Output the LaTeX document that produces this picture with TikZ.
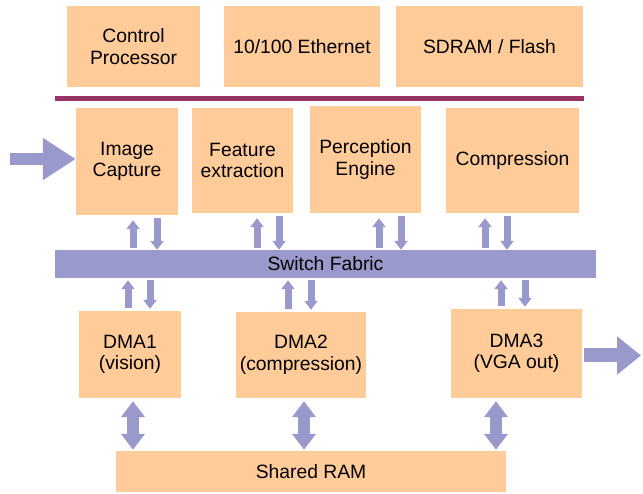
\documentclass[tikz,border=0pt]{standalone}
\usepackage{fontspec}
\setmainfont{Liberation Sans}
\usetikzlibrary{arrows.meta,calc}
\definecolor{peach}{HTML}{FFCC99}
\definecolor{lilac}{HTML}{9999CC}
\definecolor{busred}{HTML}{993366}
\tikzset{
  block/.style={fill=peach, draw=none, inner sep=0pt, align=center,
    font=\fontsize{19.3}{21.5}\selectfont},
  fabric/.style={fill=lilac, draw=none, inner sep=0pt,
    font=\fontsize{19.3}{21.5}\selectfont},
  thin arrow/.style={draw=lilac, line width=7pt,
    -{Triangle[length=9pt,width=13pt]}},
  both arrow/.style={draw=lilac, line width=12pt,
    {Triangle[length=16pt,width=23pt]}-{Triangle[length=16pt,width=23pt]}},
  in arrow/.style={draw=lilac, line width=12pt,
    -{Triangle[length=33pt,width=40pt]}},
  out arrow/.style={draw=lilac, line width=14pt,
    -{Triangle[length=24pt,width=37pt]}},
}
\begin{document}
\begin{tikzpicture}[x=1pt,y=-1pt]
\useasboundingbox (0,0) rectangle (643,494);

% peripheral blocks and host bus
\node[block, minimum width=133pt, minimum height=81pt] (cp)  at (133.5,46.5) {Control\\Processor};
\node[block, minimum width=156pt, minimum height=81pt] (eth) at (302,46.5) {10/100 Ethernet};
\node[block, minimum width=187pt, minimum height=81pt] (sd)  at (489.5,46.5) {SDRAM / Flash};
\node[fill=busred, inner sep=0pt, minimum width=529pt, minimum height=5pt] (bus) at (319.5,98.5) {};

% processing blocks
\node[block, minimum width=102pt, minimum height=107pt] (ic) at (127,161.5) {Image\\Capture};
\node[block, minimum width=101pt, minimum height=105pt] (fe) at (242.5,160.5) {Feature\\extraction};
\node[block, minimum width=111pt, minimum height=107pt] (pe) at (365.5,159.5) {Perception\\Engine};
\node[block, minimum width=133pt, minimum height=105pt] (cm) at (512.5,160.5) {Compression};

% switch fabric
\node[fabric, minimum width=541pt, minimum height=28pt] (sf) at (325.5,264) {Switch Fabric};

% DMA engines and shared memory
\node[block, minimum width=102pt, minimum height=87pt] (d1) at (130,354.5) {DMA1\\(vision)};
\node[block, minimum width=130pt, minimum height=86pt] (d2) at (301,355) {DMA2\\(compression)};
\node[block, minimum width=131pt, minimum height=89pt] (d3) at (516.5,353.5) {DMA3\\(VGA out)};
\node[block, minimum width=390pt, minimum height=41pt] (ram) at (311,471.5) {Shared RAM};

% processing blocks <-> switch fabric
\foreach \b/\u/\d in {ic/6/30, fe/14.5/36.5, pe/13.5/35.5, cm/-27.5/-5.5}{
  \draw[thin arrow] ($(sf.north -| \b.south)+(\u,-2)$) -- ($(\b.south)+(\u,5)$);
  \draw[thin arrow] ($(\b.south)+(\d,3)$) -- ($(sf.north -| \b.south)+(\d,0)$);
}

% switch fabric <-> DMA engines
\foreach \b/\u/\d in {d1/-2/20, d2/-13/10, d3/-15.5/8.5}{
  \draw[thin arrow] ($(\b.north)+(\u,-3)$) -- ($(sf.south -| \b.north)+(\u,2)$);
  \draw[thin arrow] ($(sf.south -| \b.north)+(\d,2)$) -- ($(\b.north)+(\d,-2)$);
}

% DMA engines <-> shared RAM
\foreach \b/\o in {d1/3, d2/3, d3/-20.5}{
  \draw[both arrow] ($(\b.south)+(\o,3)$) -- ($(ram.north -| \b.south)+(\o,-1)$);
}

% video in and out
\coordinate (vin) at (10,159);
\coordinate (vout) at (641,355.5);
\draw[in arrow] (vin) -- (ic.west |- vin);
\draw[out arrow] ($(d3.east |- vout)+(2,0)$) -- (vout);
\end{tikzpicture}
\end{document}
